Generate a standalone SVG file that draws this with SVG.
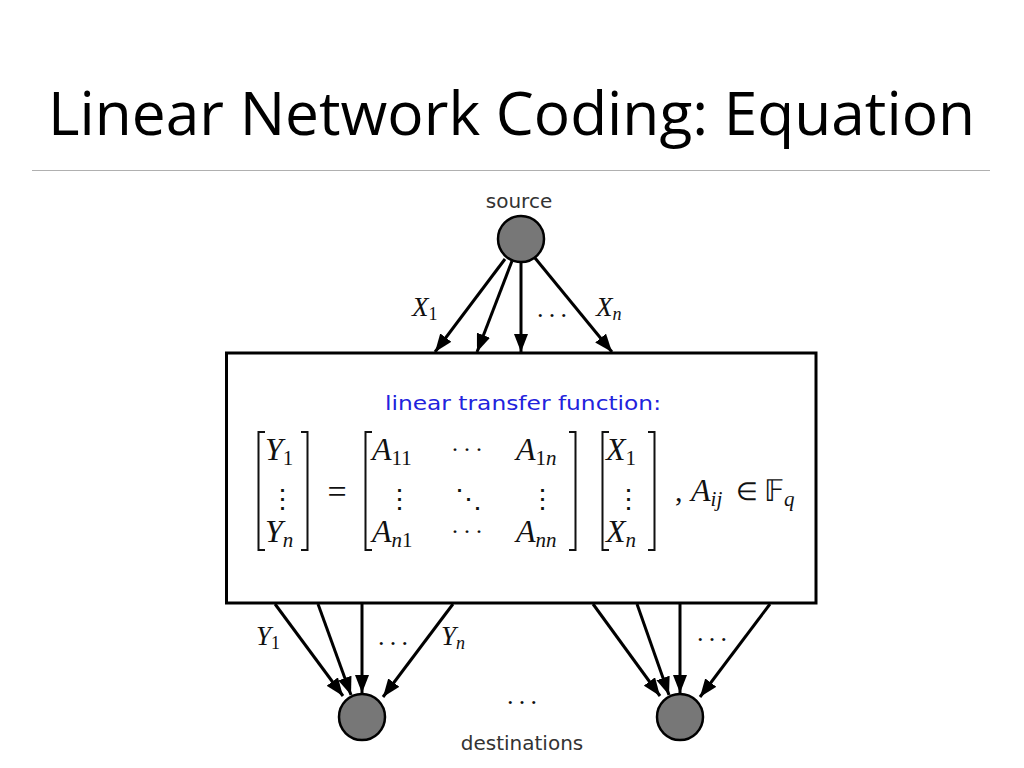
<svg xmlns="http://www.w3.org/2000/svg" width="1024" height="768" viewBox="0 0 1024 768">
<defs>
<style>
.title{font-family:"Open Sans","Liberation Sans",sans-serif;font-size:61px;fill:#000}
.lbl{font-family:"DejaVu Sans","Liberation Sans",sans-serif;font-size:20px;fill:#333}
.blue{font-family:"DejaVu Sans","Liberation Sans",sans-serif;font-size:20px;fill:#2222dd}
.mi{font-family:"Liberation Serif",serif;font-style:italic;fill:#111}
.mr{font-family:"Liberation Serif",serif;font-style:normal;fill:#111}
.dots{font-family:"DejaVu Serif",serif;fill:#111}
.node{fill:#777;stroke:#000;stroke-width:2.5}
.edge{stroke:#000;stroke-width:3;fill:none;marker-end:url(#ah)}
.br{stroke:#111;stroke-width:2;fill:none}
</style>
<marker id="ah" markerUnits="userSpaceOnUse" markerWidth="18" markerHeight="14" refX="18" refY="7" orient="auto">
<path d="M0,0 L18,7 L0,14 z" fill="#000"/>
</marker>
</defs>
<rect width="1024" height="768" fill="#fff"/>
<text class="title" x="48" y="135" textLength="927" lengthAdjust="spacingAndGlyphs">Linear Network Coding: Equation</text>
<line x1="32" y1="170.5" x2="990" y2="170.5" stroke="#b0b0b0" stroke-width="1.2"/>

<g id="connectors">
<line class="edge" x1="505" y1="259" x2="435" y2="352"/>
<line class="edge" x1="512" y1="261" x2="477" y2="352"/>
<line class="edge" x1="521" y1="261" x2="521" y2="352"/>
<line class="edge" x1="535" y1="258" x2="612" y2="352"/>
<line class="edge" x1="275" y1="604" x2="343" y2="696"/>
<line class="edge" x1="318" y1="604" x2="351" y2="695"/>
<line class="edge" x1="362" y1="604" x2="362" y2="693"/>
<line class="edge" x1="453" y1="604" x2="383" y2="697"/>
<line class="edge" x1="593" y1="604" x2="660" y2="696"/>
<line class="edge" x1="637" y1="604" x2="669" y2="695"/>
<line class="edge" x1="680" y1="604" x2="680" y2="693"/>
<line class="edge" x1="770" y1="604" x2="700" y2="697"/>
<text class="mi" x="412" y="316" font-size="27">X<tspan class="mr" font-size="18" dy="4">1</tspan></text>
<text class="mr" x="537" y="317" font-size="26" textLength="30" lengthAdjust="spacing">. . .</text>
<text class="mi" x="596" y="316" font-size="27">X<tspan font-size="18" dy="4">n</tspan></text>
<text class="mi" x="256" y="645" font-size="27">Y<tspan class="mr" font-size="18" dy="4">1</tspan></text>
<text class="mr" x="378" y="645" font-size="26" textLength="30" lengthAdjust="spacing">. . .</text>
<text class="mi" x="441" y="645" font-size="27">Y<tspan font-size="18" dy="4">n</tspan></text>
<text class="mr" x="697" y="641" font-size="26" textLength="30" lengthAdjust="spacing">. . .</text>
<text class="mr" x="507" y="704" font-size="26" textLength="30" lengthAdjust="spacing">. . .</text>
</g>

<g id="source">
<circle class="node" cx="521" cy="239" r="23"/>
<text class="lbl" x="519" y="208" text-anchor="middle">source</text>
</g>

<g id="transfer">
<rect x="226.5" y="353" width="589.5" height="250" fill="#fff" stroke="#000" stroke-width="3"/>
<text class="blue" x="523" y="410" text-anchor="middle" textLength="276" lengthAdjust="spacingAndGlyphs">linear transfer function:</text>
<!-- Y vector -->
<path class="br" d="M265,432 H258.5 V550 H265"/>
<path class="br" d="M301,432 H307.5 V550 H301"/>
<text class="mi" x="265" y="460" font-size="32">Y<tspan class="mr" font-size="21" dy="5">1</tspan></text>
<text class="dots" x="282" y="508" font-size="27" text-anchor="middle">⋮</text>
<text class="mi" x="265" y="542" font-size="32">Y<tspan font-size="21" dy="5">n</tspan></text>
<text class="mr" x="337" y="503" font-size="34" text-anchor="middle">=</text>
<!-- A matrix -->
<path class="br" d="M372,432 H365.5 V550 H372"/>
<path class="br" d="M569,432 H575.5 V550 H569"/>
<text class="mi" x="372" y="460" font-size="32">A<tspan class="mr" font-size="21" dy="5">11</tspan></text>
<text class="mr" x="452" y="451" font-size="24" textLength="30" lengthAdjust="spacing">. . .</text>
<text class="mi" x="516" y="460" font-size="32">A<tspan class="mr" font-size="21" dy="5">1</tspan><tspan font-size="21">n</tspan></text>
<text class="dots" x="399" y="508" font-size="27" text-anchor="middle">⋮</text>
<text class="dots" x="468" y="508" font-size="27" text-anchor="middle">⋱</text>
<text class="dots" x="542" y="508" font-size="27" text-anchor="middle">⋮</text>
<text class="mi" x="372" y="542" font-size="32">A<tspan font-size="21" dy="5">n</tspan><tspan class="mr" font-size="21">1</tspan></text>
<text class="mr" x="452" y="533" font-size="24" textLength="30" lengthAdjust="spacing">. . .</text>
<text class="mi" x="516" y="542" font-size="32">A<tspan font-size="21" dy="5">nn</tspan></text>
<!-- X vector -->
<path class="br" d="M609,432 H602.5 V550 H609"/>
<path class="br" d="M648,432 H654.5 V550 H648"/>
<text class="mi" x="606" y="460" font-size="32">X<tspan class="mr" font-size="21" dy="5">1</tspan></text>
<text class="dots" x="628" y="508" font-size="27" text-anchor="middle">⋮</text>
<text class="mi" x="606" y="542" font-size="32">X<tspan font-size="21" dy="5">n</tspan></text>
<text class="mr" x="675" y="501" font-size="30">,</text>
<text class="mi" x="691" y="501" font-size="32">A<tspan font-size="21" dy="5">ij</tspan></text>
<text class="mr" x="736" y="500" font-size="25">∈</text>
<text class="mr" x="764" y="501" font-size="30" font-family="DejaVu Serif">𝔽<tspan class="mi" font-size="21" dy="5" font-family="Liberation Serif">q</tspan></text>
</g>

<g id="dest1">
<circle class="node" cx="362" cy="717" r="23"/>
</g>
<g id="dest2">
<circle class="node" cx="680" cy="717" r="23"/>
</g>
<text class="lbl" x="522" y="750" text-anchor="middle">destinations</text>
</svg>
